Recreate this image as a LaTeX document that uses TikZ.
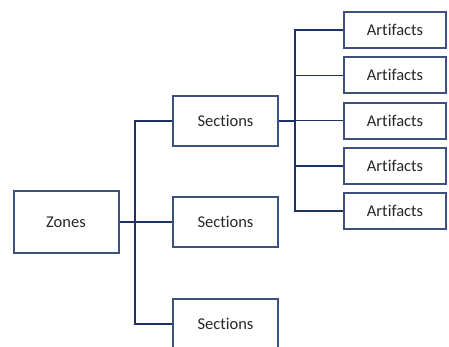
\documentclass[tikz,border=0pt]{standalone}
\usepackage{fontspec}
\setmainfont{Carlito}[Ligatures=NoCommon]
\usepackage{tikz}
\usetikzlibrary{calc}
\usetikzlibrary{positioning}

\definecolor{boxline}{RGB}{62,80,125}
\definecolor{linkline}{RGB}{31,50,100}

\begin{document}
\begin{tikzpicture}[x=1pt, y=-1pt,
    box/.style={rectangle, draw=boxline, line width=2pt, fill=white, inner sep=0pt,
        minimum width=105pt, text=black!85, font=\fontsize{16.5}{19}\selectfont},
    link/.style={draw=linkline, line width=1.4pt}]
            \useasboundingbox (0, 0) rectangle (449, 347);
            \begin{scope}
            \clip (0, 0) rectangle (449, 347);
            \node[box, minimum height=62pt] (zones) at (66, 222) {Zones};
            \node[box, minimum height=50pt] (sec1) at (225.5, 121) {Sections};
            \node[box, minimum height=50pt] (sec2) at (225.5, 222) {Sections};
            \node[box, minimum height=50pt] (sec3) at (225.5, 324) {Sections};
            \def\A{30, 75.3, 120.6, 165.9, 211.2}
            \foreach \y[count=\i from 1] in \A
            {
                \node[box, minimum width=102pt, minimum height=36pt] (art\i) at (395, \y) {Artifacts};
            }
            \coordinate (j1) at (135, 222);
            \coordinate (j2) at (295, 121);
            \draw[link] (zones.east) -- (sec2.west);
            \draw[link] (j1) |- (sec1.west);
            \draw[link] (j1) |- (sec3.west);
            \draw[link, line width=2.2pt] (sec1.east) -- (j2);
            \foreach \i in {1, ..., 5}
            {
                \draw[link] (j2) |- (art\i.west);
            }
            \end{scope}
        \end{tikzpicture}
\end{document}
